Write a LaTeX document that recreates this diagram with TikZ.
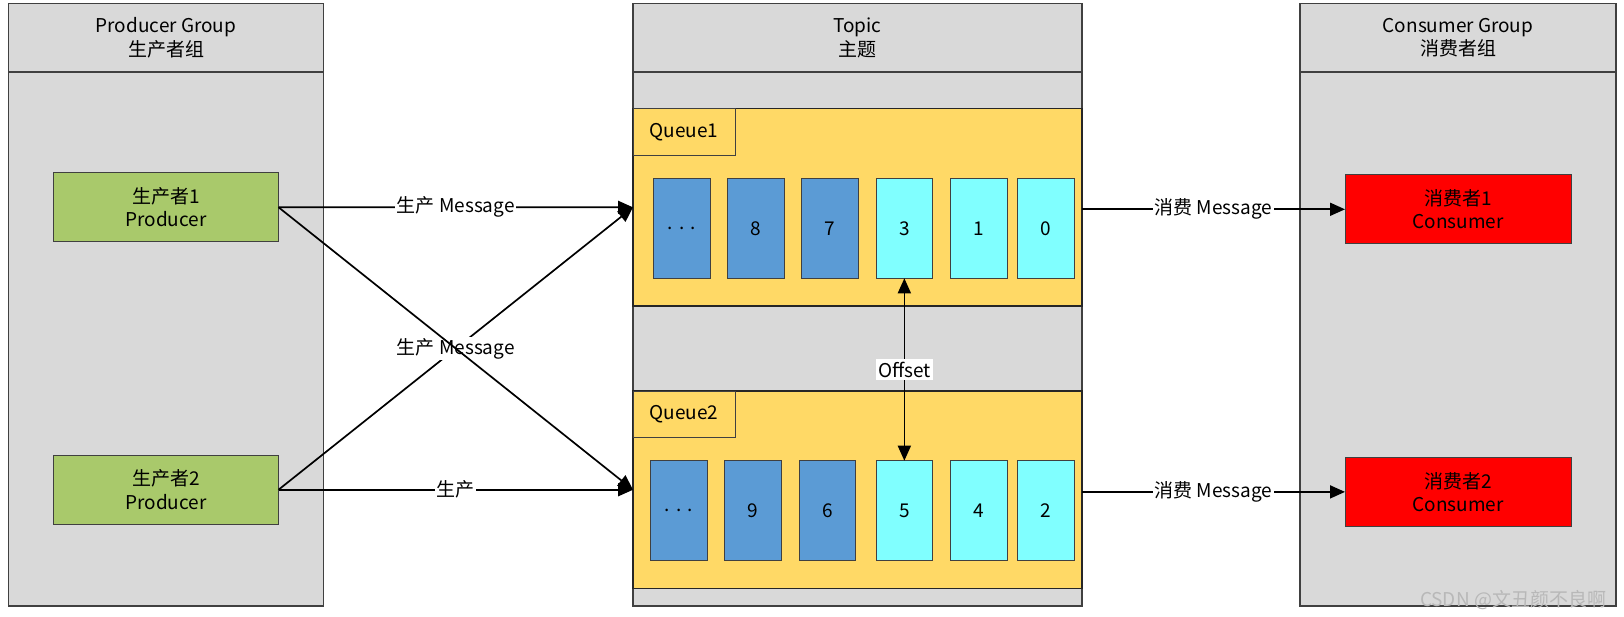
\documentclass[tikz,border=0pt]{standalone}
\usepackage{fontspec}
\setmainfont{Noto Sans CJK SC}
\usetikzlibrary{arrows.meta,fit}
\definecolor{panelgray}{HTML}{D9D9D9}
\definecolor{queueyellow}{HTML}{FFD966}
\definecolor{cellblue}{HTML}{5B9BD5}
\definecolor{cellcyan}{HTML}{80FFFF}
\definecolor{prodgreen}{HTML}{A9C96B}
\definecolor{consred}{HTML}{FF0000}
\definecolor{edgegray}{HTML}{404040}
\definecolor{markgray}{HTML}{B8B8B8}
\begin{document}
\begin{tikzpicture}[x=1pt,y=-1pt,
  every node/.style={font=\fontsize{19}{23.5}\selectfont, inner sep=0pt, outer sep=0pt},
  panel/.style={draw=edgegray, line width=1.3pt, fill=panelgray},
  queue/.style={draw=black!85, line width=1.2pt, fill=queueyellow},
  qlabel/.style={draw=edgegray, line width=1pt, fill=queueyellow},
  cellA/.style={draw=edgegray, line width=1pt, fill=cellblue},
  cellB/.style={draw=edgegray, line width=1pt, fill=cellcyan},
  prod/.style={draw=edgegray, line width=1pt, fill=prodgreen},
  cons/.style={draw=edgegray, line width=1pt, fill=consred},
  conn/.style={draw=black, line width=1.7pt, -{Triangle[length=15pt,width=13pt]}},
  lbl/.style={fill=white, inner sep=1.5pt}
]
\path[use as bounding box] (0,0) rectangle (1624,617);

% Producer group
\node[panel, fit={(8.5,3.5) (323.5,606)}] (pgbody) {};
\node[panel, fit={(8.5,3.5) (323.5,72)}] (pghead) {};
\node[align=center] (pgt) at (pghead.center) {Producer Group\\生产者组};
\node[prod, fit={(53.5,173) (278.5,241.5)}] (p1) {};
\node[align=center] (p1t) at (p1.center) {生产者1\\Producer};
\node[prod, fit={(53.5,455.5) (278.5,524)}] (p2) {};
\node[align=center] (p2t) at (p2.center) {生产者2\\Producer};

% Topic
\node[panel, fit={(633,3.5) (1082,606)}] (tbody) {};
\node[panel, fit={(633,3.5) (1082,72)}] (thead) {};
\node[align=center] (tt) at (thead.center) {Topic\\主题};
\node[queue, fit={(633,108.7) (1082,306)}] (q1) {};
\node[qlabel, fit={(633,108.7) (735,155.3)}] (q1l) {};
\node (q1lt) at (q1l.center) {Queue1};
\node[queue, fit={(633,391) (1082,588.5)}] (q2) {};
\node[qlabel, fit={(633,391) (735,437.5)}] (q2l) {};
\node (q2lt) at (q2l.center) {Queue2};

% Queue1 cells
\node[cellA, fit={(653.3,178.3) (710,278.3)}] (q1a) {};
\node at (q1a.center) (q1at) {.\,\,.\,\,.};
\node[cellA, fit={(727.3,178.3) (784.3,278.3)}] (q1b) {};
\node at (q1b.center) (q1bt) {8};
\node[cellA, fit={(801.7,178.3) (858.3,278.3)}] (q1c) {};
\node at (q1c.center) (q1ct) {7};
\node[cellB, fit={(876,178.3) (932.7,278.3)}] (q1d) {};
\node at (q1d.center) (q1dt) {3};
\node[cellB, fit={(950.3,178.3) (1007,278.3)}] (q1e) {};
\node at (q1e.center) (q1et) {1};
\node[cellB, fit={(1017.3,178.3) (1074,278.3)}] (q1f) {};
\node at (q1f.center) (q1ft) {0};

% Queue2 cells
\node[cellA, fit={(650.3,460.7) (707,560.3)}] (q2a) {};
\node at (q2a.center) (q2at) {.\,\,.\,\,.};
\node[cellA, fit={(724.3,460.7) (781.3,560.3)}] (q2b) {};
\node at (q2b.center) (q2bt) {9};
\node[cellA, fit={(799,460.7) (855.7,560.3)}] (q2c) {};
\node at (q2c.center) (q2ct) {6};
\node[cellB, fit={(876,460.7) (932.7,560.3)}] (q2d) {};
\node at (q2d.center) (q2dt) {5};
\node[cellB, fit={(950.3,460.7) (1007,560.3)}] (q2e) {};
\node at (q2e.center) (q2et) {4};
\node[cellB, fit={(1017.3,460.7) (1074,560.3)}] (q2f) {};
\node at (q2f.center) (q2ft) {2};

% Consumer group
\node[panel, fit={(1300,3.5) (1616,606)}] (cgbody) {};
\node[panel, fit={(1300,3.5) (1616,72)}] (cghead) {};
\node[align=center] (cgt) at (cghead.center) {Consumer Group\\消费者组};
\node[cons, fit={(1345,174.7) (1571.6,243.9)}] (c1) {};
\node[align=center] (c1t) at (c1.center) {消费者1\\Consumer};
\node[cons, fit={(1345,457.3) (1571.6,526.5)}] (c2) {};
\node[align=center] (c2t) at (c2.center) {消费者2\\Consumer};

% Connectors
\draw[conn] (p1.east) -- node[lbl] (l1) {生产 Message} (q1.west);
\draw[conn] (p2.east) -- node[lbl] (l2) {生产 Message} (q1.west);
\draw[conn] (p1.east) -- (q2.west);
\draw[conn] (p2.east) -- node[lbl] (l3) {生产} (q2.west);
\draw[conn] (q1.east |- c1.west) -- node[lbl] (l4) {消费 Message} (c1.west);
\draw[conn] (q2.east |- c2.west) -- node[lbl] (l5) {消费 Message} (c2.west);
\draw[conn, {Triangle[length=15pt,width=13pt]}-{Triangle[length=15pt,width=13pt]}] (q1d.south) -- node[lbl, inner sep=2.5pt] (l6) {Offset} (q2d.north);

% Watermark
\node[text=markgray, font=\fontsize{19}{21}\selectfont] (wm) at (1513,600) {CSDN @文丑颜不良啊};
\end{tikzpicture}
\end{document}
